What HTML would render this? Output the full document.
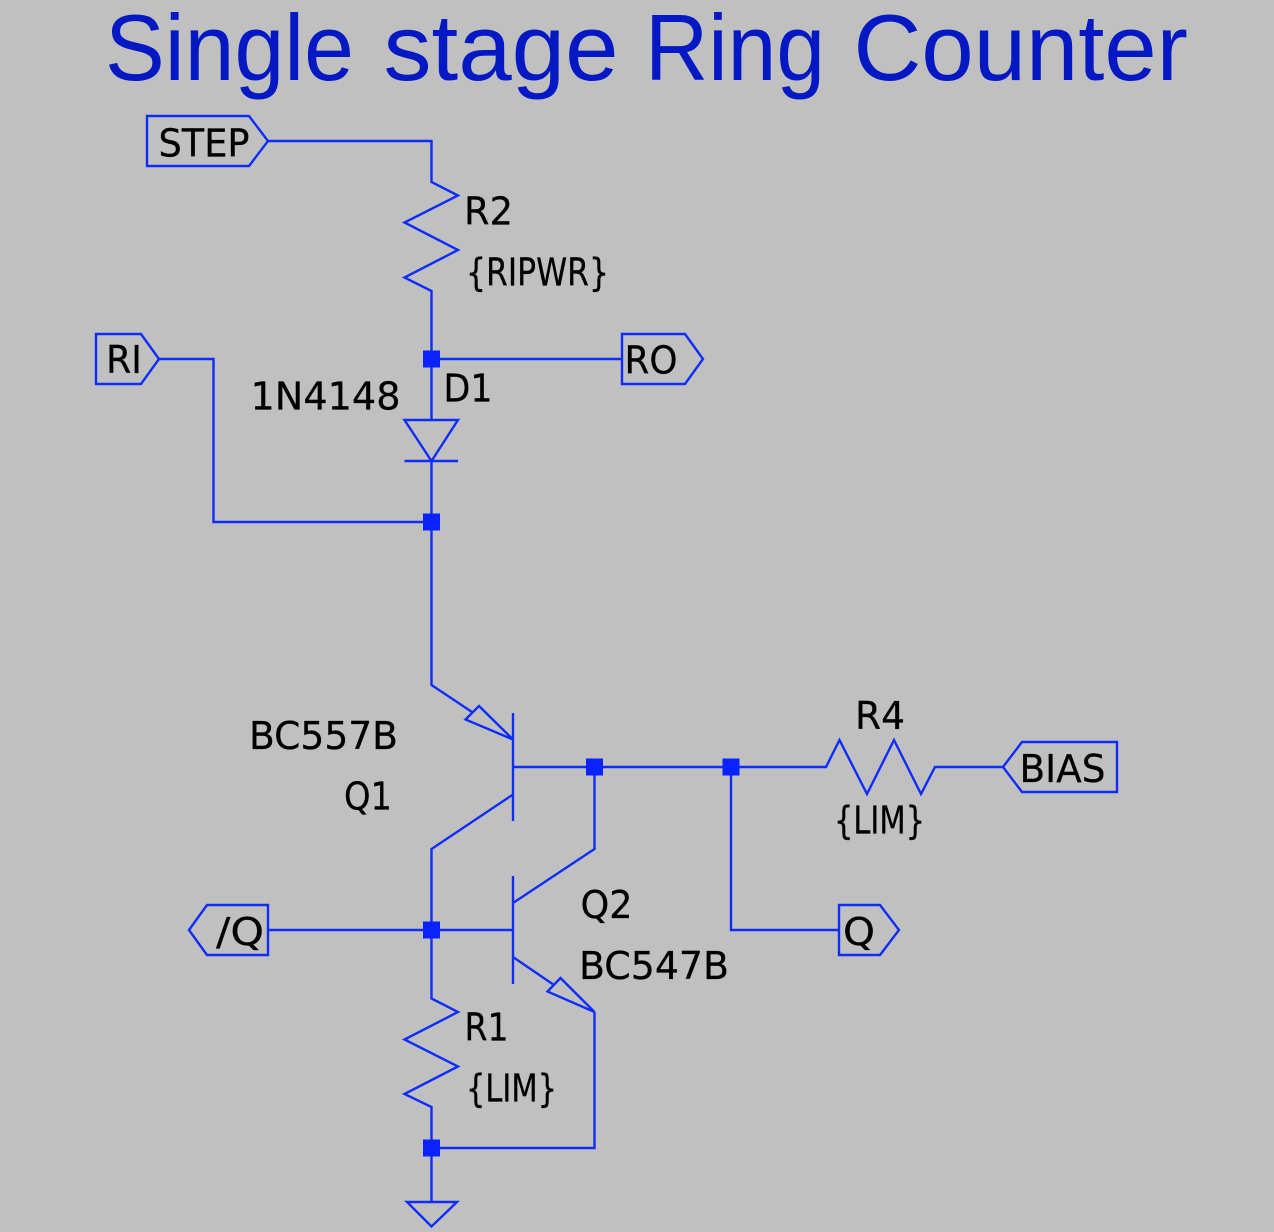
<!DOCTYPE html>
<html><head><meta charset="utf-8"><style>
html,body{margin:0;padding:0;background:#c0c0c0}
svg{display:block}
.l{fill:none;stroke:#0f2dfa;stroke-width:2.4;stroke-linejoin:miter}
.j{fill:#0a22ff}
text{font-family:"DejaVu Sans","Liberation Sans",sans-serif;font-size:38px;fill:#000;stroke:#000;stroke-width:.25px}
text.t{font-family:"Liberation Sans",sans-serif;font-size:94px;fill:#0418c4;stroke:none}
</style></head><body>
<svg width="1274" height="1232" viewBox="0 0 1274 1232" xmlns="http://www.w3.org/2000/svg">
<rect width="1274" height="1232" fill="#c0c0c0"/>
<text class="t" x="105" y="80" textLength="249" lengthAdjust="spacingAndGlyphs">Single</text>
<text class="t" x="383.500" y="80" textLength="235" lengthAdjust="spacingAndGlyphs">stage</text>
<text class="t" x="645" y="80" textLength="180" lengthAdjust="spacingAndGlyphs">Ring</text>
<text class="t" x="853.500" y="80" textLength="334.500" lengthAdjust="spacingAndGlyphs">Counter</text>
<g class="l">
<path d="M147 116H249L268 141L249 166H147Z"/>
<path d="M96 334H141L159 359L141 384H96Z"/>
<path d="M622 334H685L703 359L685 384H622Z"/>
<path d="M1117 742H1022L1003 767L1022 792H1117Z"/>
<path d="M839 905H880L899 930L880 955H839Z"/>
<path d="M268 905H207L189 930L207 955H268Z"/>
<path d="M268 141H431.500V182L458 195.500L404.500 222.500L458 250L404.500 277.500L431.500 291V420"/>
<path d="M431.500 359H622"/>
<path d="M159 359H213.500V522H431.500"/>
<path d="M404.500 420H458L431.500 461ZM404.500 461H458M431.500 461V685L472 712"/>
<path d="M513 739.500L479 706L465.500 719.500ZM513 713V821"/>
<path d="M513 767H826L839.500 740L867 794L894 740L921 794L935 767H1003"/>
<path d="M513 794.500L431.500 849V998.500L458 1012L404.500 1039.500L458 1066.500L404.500 1094L431.500 1107V1202"/>
<path d="M594.500 767V849L513 903M513 876V984"/>
<path d="M268 930H513"/>
<path d="M513 957L554 985"/>
<path d="M594.500 1012L560.500 978L547.500 991.500ZM594.500 1012V1148H431.500"/>
<path d="M731 767V930H839"/>
<path d="M407 1202H457L431.500 1226.500Z"/>
</g>
<g class="j">
<rect x="423" y="350.500" width="17" height="17"/>
<rect x="423" y="513.500" width="17" height="17"/>
<rect x="586" y="758.500" width="17" height="17"/>
<rect x="722.500" y="758.500" width="17" height="17"/>
<rect x="423" y="921.500" width="17" height="17"/>
<rect x="423" y="1139.500" width="17" height="17"/>
</g>
<text x="158.500" y="156.500" textLength="91" lengthAdjust="spacingAndGlyphs">STEP</text>
<text x="464" y="224.500" textLength="49" lengthAdjust="spacingAndGlyphs">R2</text>
<text x="466" y="285.500" textLength="143" lengthAdjust="spacingAndGlyphs">{RIPWR}</text>
<text x="624.500" y="373.500" textLength="53" lengthAdjust="spacingAndGlyphs">RO</text>
<text x="106" y="373" textLength="36" lengthAdjust="spacingAndGlyphs">RI</text>
<text x="250.500" y="409.500" textLength="150" lengthAdjust="spacingAndGlyphs">1N4148</text>
<text x="443.500" y="401.500" textLength="49" lengthAdjust="spacingAndGlyphs">D1</text>
<text x="249" y="749" textLength="149" lengthAdjust="spacingAndGlyphs">BC557B</text>
<text x="344" y="809.500" textLength="48" lengthAdjust="spacingAndGlyphs">Q1</text>
<text x="580.500" y="918" textLength="52" lengthAdjust="spacingAndGlyphs">Q2</text>
<text x="579" y="979" textLength="150" lengthAdjust="spacingAndGlyphs">BC547B</text>
<text x="464.500" y="1040.500" textLength="44" lengthAdjust="spacingAndGlyphs">R1</text>
<text x="466" y="1101.500" textLength="91" lengthAdjust="spacingAndGlyphs">{LIM}</text>
<text x="855" y="729" textLength="50" lengthAdjust="spacingAndGlyphs">R4</text>
<text x="834" y="833.500" textLength="91" lengthAdjust="spacingAndGlyphs">{LIM}</text>
<text x="1019.500" y="782" textLength="86" lengthAdjust="spacingAndGlyphs">BIAS</text>
<text x="843" y="945" textLength="32" lengthAdjust="spacingAndGlyphs">Q</text>
<text x="216" y="945" textLength="48" lengthAdjust="spacingAndGlyphs">/Q</text>
</svg>
</body></html>
